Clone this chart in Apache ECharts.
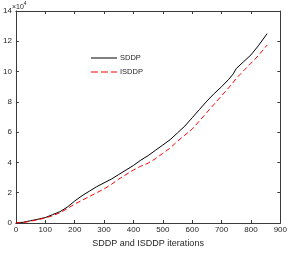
<!DOCTYPE html>
<html>
<head>
<meta charset="utf-8">
<script src="https://cdn.jsdelivr.net/npm/echarts@6/dist/echarts.min.js"></script>
<style>
html,body{margin:0;padding:0;background:#fff;}
#chart{width:290px;height:253px;}
</style>
</head>
<body>
<div id="chart"></div>
<script>
const iterations = [0,25,50,75,100,125,150,175,200,225,250,275,300,325,350,375,400,425,450,475,500,525,550,575,600,625,650,675,700,725,740,750,775,800,825,855];
const sddpValues = [0,500,1500,2500,3600,5500,7500,10500,14500,18000,21000,24000,26500,29000,32000,35000,38000,41500,44500,48000,51500,55000,59500,64000,69500,75000,80500,85500,90000,95000,98500,102000,106500,111000,117000,125000];
const isddpValues = [0,300,1200,2200,3300,4800,6800,9500,12500,15000,17500,20000,22500,25500,29000,32000,35000,37500,39500,42500,46000,49500,54000,58000,62000,67500,73000,78500,84000,89500,93000,95500,100500,105500,110500,117500];
const seriesNames = ['SDDP','ISDDP'];
const xTicks = {min:0, max:900, step:100};
const yTicks = {min:0, max:140000, step:20000};
const xLabel = 'SDDP and ISDDP iterations';

const zip = (xs, ys) => xs.map((x,i)=>[x, ys[i]]);
const axisColor = '#3a3a3a';
const font = 'Liberation Sans, Arial, Helvetica, sans-serif';

const chart = echarts.init(document.getElementById('chart'), null, {renderer:'canvas'});
const baseX = {
  type:'value', min:xTicks.min, max:xTicks.max, interval:xTicks.step,
  axisLine:{show:true, onZero:false, lineStyle:{color:axisColor, width:1}},
  axisTick:{show:true, inside:true, length:3, lineStyle:{color:axisColor}},
  splitLine:{show:false}
};
const baseY = {
  type:'value', min:yTicks.min, max:yTicks.max, interval:yTicks.step,
  axisLine:{show:true, onZero:false, lineStyle:{color:axisColor, width:1}},
  axisTick:{show:true, inside:true, length:3, lineStyle:{color:axisColor}},
  splitLine:{show:false}
};
chart.setOption({
  animation:false,
  backgroundColor:'#fff',
  grid:{left:12.7, right:7, top:11, bottom:28.3, containLabel:false},
  xAxis:[
    Object.assign({}, baseX, {position:'bottom',
      axisLabel:{show:true, margin:3, fontSize:8, color:'#262626', fontFamily:font},
      name:xLabel, nameLocation:'middle', nameGap:16,
      nameTextStyle:{fontSize:9, color:'#262626', fontFamily:font}}),
    Object.assign({}, baseX, {position:'top', axisLabel:{show:false}})
  ],
  yAxis:[
    Object.assign({}, baseY, {position:'left',
      axisLabel:{show:true, margin:4, fontSize:8, color:'#262626', fontFamily:font,
        formatter:v=>String(v/10000)}}),
    Object.assign({}, baseY, {position:'right', axisLabel:{show:false}})
  ],
  legend:{
    show:true, orient:'vertical', left:86, top:49, itemWidth:26, itemHeight:6, itemGap:6,
    textStyle:{fontSize:7.5, color:'#262626', fontFamily:font, padding:[0,0,0,-2]},
    data:[
      {name:seriesNames[0], icon:'path://M0,0L26,0L26,1L0,1Z', itemStyle:{color:'#000'}},
      {name:seriesNames[1], icon:'path://M0,0h7v1h-7z M10,0h7v1h-7z M20,0h6v1h-6z', itemStyle:{color:'#ff0000'}}
    ]
  },
  graphic:[
    {type:'text', left:12, top:1, style:{
      text:'{a|×10}{b|4}', rich:{
        a:{fontSize:7, fill:'#262626', fontFamily:font, verticalAlign:'bottom', padding:[3,0,0,0]},
        b:{fontSize:5, fill:'#262626', fontFamily:font, verticalAlign:'top'}
      }}}
  ],
  series:[
    {name:seriesNames[0], type:'line', data:zip(iterations, sddpValues), symbol:'none', smooth:false,
      lineStyle:{color:'#000', width:1}, itemStyle:{color:'#000'}},
    {name:seriesNames[1], type:'line', data:zip(iterations, isddpValues), symbol:'none', smooth:false,
      lineStyle:{color:'#ff0000', width:1, type:[5,3]}, itemStyle:{color:'#ff0000'}}
  ]
});
</script>
</body>
</html>
